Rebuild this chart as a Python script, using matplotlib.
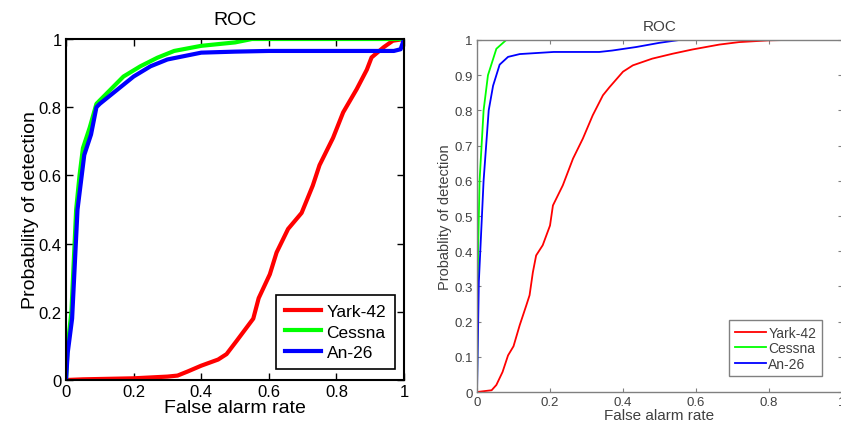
import matplotlib
matplotlib.use("Agg")
import matplotlib.pyplot as plt

plt.rcParams['font.family'] = ['Liberation Sans', 'DejaVu Sans']

# left panel ROC curves
l_yark_x = [0, 0.05, 0.2, 0.3, 0.33, 0.36, 0.4, 0.45, 0.475, 0.505, 0.554, 0.57, 0.603, 0.623, 0.657,
            0.697, 0.73, 0.75, 0.79, 0.82, 0.86, 0.89, 0.904, 0.94, 0.967, 1.0]
l_yark_y = [0, 0.002, 0.005, 0.01, 0.013, 0.025, 0.042, 0.06, 0.076, 0.115, 0.18, 0.24, 0.31, 0.374, 0.443,
            0.49, 0.57, 0.63, 0.71, 0.785, 0.853, 0.91, 0.946, 0.976, 0.995, 1.0]
l_cessna_x = [0, 0.005, 0.016, 0.03, 0.04, 0.05, 0.07, 0.09, 0.13, 0.17, 0.22, 0.27, 0.32, 0.4, 0.5, 0.55, 1.0]
l_cessna_y = [0, 0.1, 0.2, 0.5, 0.6, 0.68, 0.74, 0.81, 0.85, 0.89, 0.92, 0.945, 0.965, 0.98, 0.99, 1.0, 1.0]
l_an26_x = [0, 0.005, 0.018, 0.034, 0.044, 0.054, 0.074, 0.09, 0.1, 0.15, 0.2, 0.25, 0.3, 0.35, 0.4, 0.5,
            0.6, 0.97, 0.99, 1.0]
l_an26_y = [0, 0.08, 0.18, 0.5, 0.58, 0.66, 0.72, 0.8, 0.81, 0.85, 0.89, 0.92, 0.94, 0.95, 0.96, 0.963,
            0.965, 0.965, 0.97, 1.0]

# right panel ROC curves
r_yark_x = [0, 0.04, 0.053, 0.07, 0.085, 0.1, 0.117, 0.135, 0.144, 0.153, 0.162, 0.18, 0.2, 0.208, 0.235,
            0.263, 0.29, 0.317, 0.345, 0.363, 0.4, 0.427, 0.48, 0.536, 0.59, 0.664, 0.718, 0.8, 0.846, 1.0]
r_yark_y = [0, 0.005, 0.02, 0.057, 0.104, 0.13, 0.19, 0.246, 0.275, 0.34, 0.388, 0.417, 0.473, 0.53, 0.587,
            0.663, 0.72, 0.786, 0.843, 0.866, 0.91, 0.928, 0.947, 0.961, 0.973, 0.987, 0.994, 0.999, 1.0, 1.0]
r_cessna_x = [0, 0.003, 0.007, 0.018, 0.03, 0.053, 0.08, 1.0]
r_cessna_y = [0, 0.4, 0.6, 0.8, 0.9, 0.975, 1.0, 1.0]
r_an26_x = [0, 0.005, 0.018, 0.032, 0.044, 0.062, 0.085, 0.117, 0.21, 0.335, 0.37, 0.436, 0.5, 0.554, 1.0]
r_an26_y = [0, 0.313, 0.6, 0.8, 0.87, 0.93, 0.952, 0.96, 0.966, 0.966, 0.97, 0.98, 0.992, 1.0, 1.0]

labels = ["Yark-42", "Cessna", "An-26"]
colors = ["#ff0000", "#00ff00", "#0000ff"]

fig = plt.figure(figsize=(8.41, 4.27), dpi=100)

# left panel
ax1 = fig.add_axes([0.0785, 0.1077, 0.4019, 0.7986])
for xs, ys, lab, c in zip([l_yark_x, l_cessna_x, l_an26_x], [l_yark_y, l_cessna_y, l_an26_y], labels, colors):
    ax1.plot(xs, ys, color=c, lw=3, label=lab)
ax1.set_xlim(0, 1)
ax1.set_ylim(0, 1)
ax1.set_xticks([0, 0.2, 0.4, 0.6, 0.8, 1])
ax1.set_xticklabels(["0", "0.2", "0.4", "0.6", "0.8", "1"])
ax1.set_yticks([0, 0.2, 0.4, 0.6, 0.8, 1])
ax1.set_yticklabels(["0", "0.2", "0.4", "0.6", "0.8", "1"])
ax1.tick_params(direction="in", top=True, right=True, labelsize=12, length=5, width=1, pad=3)
for sp in ax1.spines.values():
    sp.set_linewidth(1.5)
ax1.set_title("ROC", fontsize=14, pad=11)
ax1.set_xlabel("False alarm rate", fontsize=14, labelpad=0)
ax1.set_ylabel("Probability of detection", fontsize=14, labelpad=0)
leg1 = ax1.legend(loc="lower right", bbox_to_anchor=(0.973, 0.032), borderaxespad=0, fontsize=12.5,
                  fancybox=False, framealpha=1, edgecolor="black",
                  handlelength=2.1, labelspacing=0.33, handletextpad=0.3, borderpad=0.5)
leg1.get_frame().set_linewidth(1.2)

# right panel
gray = "#404040"
ax2 = fig.add_axes([0.5672, 0.0796, 0.434, 0.8244])
for xs, ys, lab, c in zip([r_yark_x, r_cessna_x, r_an26_x], [r_yark_y, r_cessna_y, r_an26_y], labels, colors):
    ax2.plot(xs, ys, color=c, lw=1.3, label=lab)
ax2.set_xlim(0, 1)
ax2.set_ylim(0, 1)
ax2.set_xticks([0, 0.2, 0.4, 0.6, 0.8, 1])
ax2.set_xticklabels(["0", "0.2", "0.4", "0.6", "0.8", "1"])
ax2.set_yticks([i / 10 for i in range(11)])
ax2.set_yticklabels(["0", "0.1", "0.2", "0.3", "0.4", "0.5", "0.6", "0.7", "0.8", "0.9", "1"])
ax2.tick_params(direction="in", top=True, right=True, labelsize=9.5, length=3, width=0.8,
                color="#808080", labelcolor=gray, pad=3)
for sp in ax2.spines.values():
    sp.set_color("#808080")
    sp.set_linewidth(1.0)
ax2.set_title("ROC", fontsize=11, color=gray, pad=7)
ax2.set_xlabel("False alarm rate", fontsize=11, color=gray, labelpad=0)
ax2.set_ylabel("Probablity of detection", fontsize=10.5, color=gray, labelpad=2)
leg2 = ax2.legend(loc="lower right", bbox_to_anchor=(0.945, 0.045), borderaxespad=0, fontsize=10,
                  fancybox=False, framealpha=1, edgecolor="#808080", handlelength=2.2,
                  labelspacing=0.1, handletextpad=0.2, borderpad=0.4)
for t in leg2.get_texts():
    t.set_color(gray)

fig.savefig("out.png", dpi=100)
